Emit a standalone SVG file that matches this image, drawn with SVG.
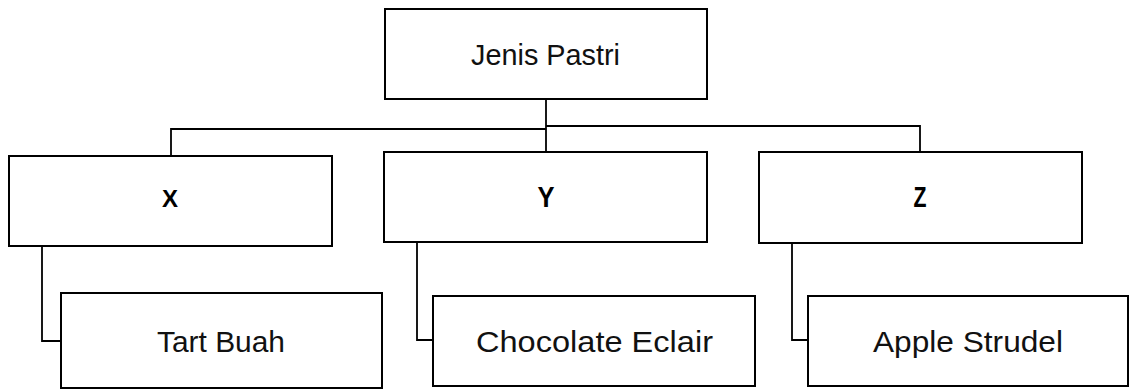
<svg xmlns="http://www.w3.org/2000/svg" width="1129" height="391" viewBox="0 0 1129 391">
<style>
.box{fill:#fff;stroke:#000;stroke-width:2}
.conn{fill:none;stroke:#000;stroke-width:1.8}
.lbl{font-family:"Liberation Sans",Arial,sans-serif;font-size:29px;fill:#111}
.bold{font-family:"Liberation Sans",Arial,sans-serif;font-weight:bold;fill:#000;text-anchor:middle}
</style>
<rect width="1129" height="391" fill="#fff"/>
<g id="connectors">
<polyline class="conn" points="546,99 546,152"/>
<polyline class="conn" points="546,129 171,129 171,156"/>
<polyline class="conn" points="546,126 920,126 920,152"/>
<polyline class="conn" points="42,246 42,341 61,341"/>
<polyline class="conn" points="417,242 417,340 433,340"/>
<polyline class="conn" points="792,243 792,340 808,340"/>
</g>
<g id="node-jenis-pastri">
<rect class="box" x="385" y="9" width="322" height="90"/>
<text class="lbl" x="471" y="65" textLength="149" lengthAdjust="spacingAndGlyphs">Jenis Pastri</text>
</g>
<g id="node-x">
<rect class="box" x="9" y="156" width="323" height="90"/>
<text class="bold" x="170" y="207" font-size="24">X</text>
</g>
<g id="node-y">
<rect class="box" x="384" y="152" width="323" height="90"/>
<text class="bold" x="546" y="207" font-size="30" textLength="17" lengthAdjust="spacingAndGlyphs">Y</text>
</g>
<g id="node-z">
<rect class="box" x="759" y="152" width="323" height="91"/>
<text class="bold" x="920" y="207" font-size="30" textLength="13" lengthAdjust="spacingAndGlyphs">Z</text>
</g>
<g id="node-tart-buah">
<rect class="box" x="61" y="293" width="321" height="95"/>
<text class="lbl" x="157" y="352" textLength="128" lengthAdjust="spacingAndGlyphs">Tart Buah</text>
</g>
<g id="node-chocolate-eclair">
<rect class="box" x="433" y="296" width="322" height="90"/>
<text class="lbl" x="476" y="352" textLength="237" lengthAdjust="spacingAndGlyphs">Chocolate Eclair</text>
</g>
<g id="node-apple-strudel">
<rect class="box" x="808" y="296" width="320" height="90"/>
<text class="lbl" x="873" y="352" textLength="190" lengthAdjust="spacingAndGlyphs">Apple Strudel</text>
</g>
</svg>
